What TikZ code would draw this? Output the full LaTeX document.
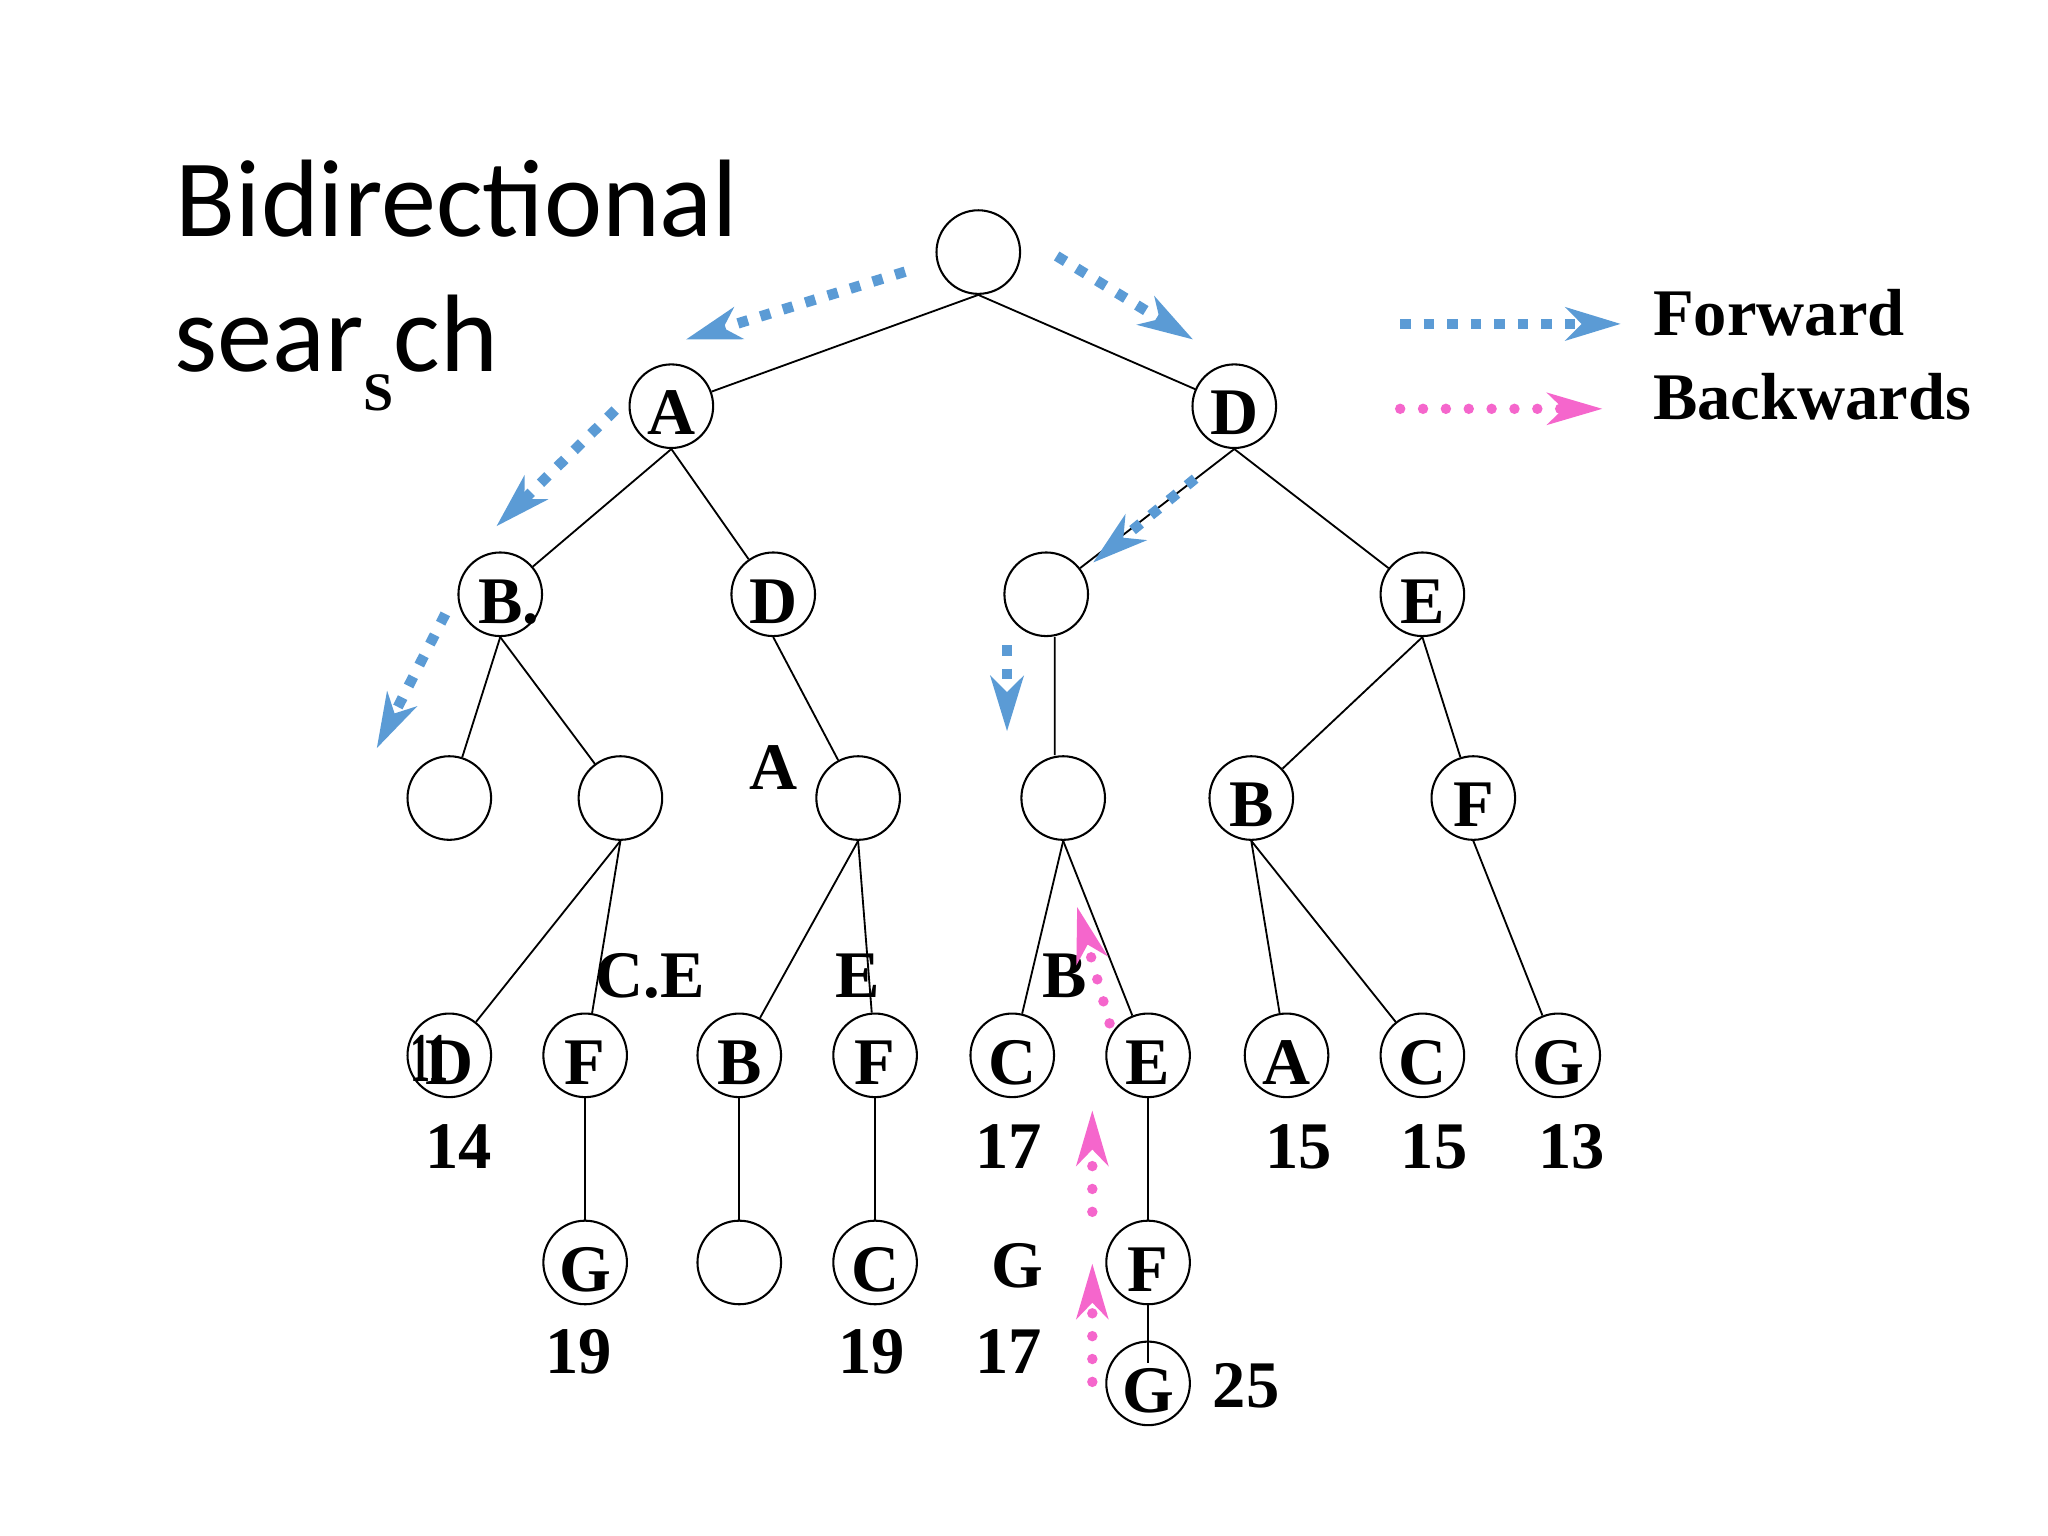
\documentclass[tikz,border=0pt]{standalone}
\usepackage{fontspec}
\setmainfont{Liberation Serif}
\newfontfamily\titlefont{Carlito}
\usepackage{tikz}
\usetikzlibrary{arrows.meta, positioning}
\definecolor{fwdblue}{RGB}{91,155,213}
\definecolor{bwdpink}{RGB}{245,102,204}
\tikzset{
every node/.style={font=\fontsize{14.5}{17}\selectfont\bfseries, inner sep=0pt}, % bold serif letters everywhere
state/.style={draw, circle, line width=0.45pt, minimum size=0.64cm, text height=0.44cm, text depth=0cm}, % the tree nodes
title/.style={font=\titlefont\mdseries\fontsize{24}{29}\selectfont, anchor=base west}, % heading text
branch/.style={line width=0.4pt}, % tree edges
fwd/.style={fwdblue, line width=0.08cm, dash pattern=on 0.08cm off 0.1cm, -{Stealth[length=0.42cm, width=0.25cm, inset=0.12cm]}}, % forward search
bwd/.style={bwdpink, line width=0.08cm, line cap=round, dash pattern=on 0pt off 0.175cm, -{Stealth[length=0.42cm, width=0.24cm, inset=0.12cm]}}, % backward search
}
\begin{document}
\begin{tikzpicture}
                \useasboundingbox (0,0) rectangle (15.68,-11.76);
                % heading
                \node[title] (head1) at (1.34,-1.81) {Bidirectional};
                \node[title] (head2) at (1.33,-2.846) {sear\raisebox{-0.294cm}{\rmfamily\bfseries\fontsize{11.8}{12}\selectfont S}ch};
                % tree
                \node[state] (root) at (7.49,-1.93) {};
                \node[state] (A) at (5.14,-3.11) {A};
                \node[state] (D1) at (9.45,-3.11) {D};
                \node[state] (Bdot) at (3.83,-4.55) {B\rlap{.}};
                \node[state] (D2) at (5.92,-4.55) {D};
                \node[state] (e1) at (8.01,-4.55) {};
                \node[state] (E1) at (10.89,-4.55) {E};
                \node[state] (e2) at (3.44,-6.11) {};
                \node[state] (e3) at (4.75,-6.11) {};
                \node[state] (e4) at (6.57,-6.11) {};
                \node[state] (e5) at (8.14,-6.11) {};
                \node[state] (B2) at (9.58,-6.11) {B};
                \node[state] (F1) at (11.28,-6.11) {F};
                \node[state] (D3) at (3.44,-8.08) {D};
                \node[state] (F2) at (4.48,-8.08) {F};
                \node[state] (B3) at (5.66,-8.08) {B};
                \node[state] (F3) at (6.70,-8.08) {F};
                \node[state] (C1) at (7.75,-8.08) {C};
                \node[state] (E2) at (8.79,-8.08) {E};
                \node[state] (A2) at (9.85,-8.08) {A};
                \node[state] (C2) at (10.89,-8.08) {C};
                \node[state] (G1) at (11.93,-8.08) {G};
                \node[state, below=0.93cm of F2] (G2) {G};
                \node[state, below=0.93cm of B3] (e6) {};
                \node[state, below=0.93cm of F3] (C3) {C};
                \node[state, below=0.93cm of E2] (F4) {F};
                \node[state, below=0.27cm of F4] (G3) {G};
                \draw[branch]
                    (root.south) edge (A)
                    (root.south) edge (D1)
                    (A.south) edge (Bdot)
                    (A.south) edge (D2)
                    (D1.south) edge (e1)
                    (D1.south) edge (E1)
                    (Bdot.south) edge (e2)
                    (Bdot.south) edge (e3)
                    (D2.south) edge (e4)
                    ([xshift=0.065cm]e1.south) edge ([xshift=-0.065cm]e5.north)
                    (E1.south) edge (B2)
                    (E1.south) edge (F1)
                    (e3.south) edge (D3)
                    (e3.south) edge (F2)
                    (e4.south) edge (B3)
                    (e4.south) edge (F3)
                    (e5.south) edge (C1)
                    (e5.south) edge (E2)
                    (B2.south) edge (A2)
                    (B2.south) edge (C2)
                    (F1.south) edge (G1)
                    (F2.south) edge (G2)
                    (B3.south) edge (e6)
                    (F3.south) edge (C3)
                    (E2.south) edge (F4)
                    (F4.south) edge[shorten >=-0.17cm] (G3)
                    ;
                % loose labels
                \node (dd) at (3.29,-8.10) {\scalebox{0.6}[1.05]{11}};
                \node (labA) at (5.92,-5.88) {A};
                \node (labCE) at (4.98,-7.47) {C.E};
                \node (labE) at (6.57,-7.47) {E};
                \node (labB) at (8.15,-7.47) {B};
                \node (labG) at (7.79,-9.69) {G};
                \node (n14) at (3.51,-8.78) {14};
                \node (n17a) at (7.72,-8.78) {17};
                \node (n15a) at (9.94,-8.78) {15};
                \node (n15b) at (10.98,-8.78) {15};
                \node (n13) at (12.03,-8.78) {13};
                \node (n19a) at (4.43,-10.35) {19};
                \node (n19b) at (6.675,-10.35) {19};
                \node (n17b) at (7.72,-10.35) {17};
                \node (n25) at (9.54,-10.61) {25};
                % search directions
                \draw[fwd] (6.93,-2.08) -- (5.25,-2.60);
                \draw[fwd] (8.09,-1.96) -- (9.135,-2.60);
                \draw[fwd] (4.71,-3.14) -- (3.80,-4.03);
                \draw[fwd] (3.41,-4.70) -- (2.884,-5.73);
                \draw[fwd] (9.15,-3.665) -- (8.368,-4.308);
                \draw[fwd] (7.71,-4.94) -- (7.71,-5.60);
                \draw[bwd] (8.495,-7.835) -- (8.246,-6.942);
                \draw[bwd] (8.363,-9.278) -- (8.363,-8.50);
                \draw[bwd] (8.363,-10.58) -- (8.363,-9.673);
                % legend
                \coordinate (fwdstart) at (10.72,-2.48);
                \coordinate (fwdend) at (12.41,-2.48);
                \coordinate (bwdstart) at (10.72,-3.13);
                \coordinate (bwdend) at (12.27,-3.13);
                \draw[fwd] (fwdstart) -- (fwdend);
                \draw[bwd] (bwdstart) -- (bwdend);
                \node[anchor=base west] (fwdtext) at (12.65,-2.565) {Forward};
                \node[anchor=base west] (bwdtext) at (12.65,-3.21) {Backwards};
                \end{tikzpicture}
\end{document}
